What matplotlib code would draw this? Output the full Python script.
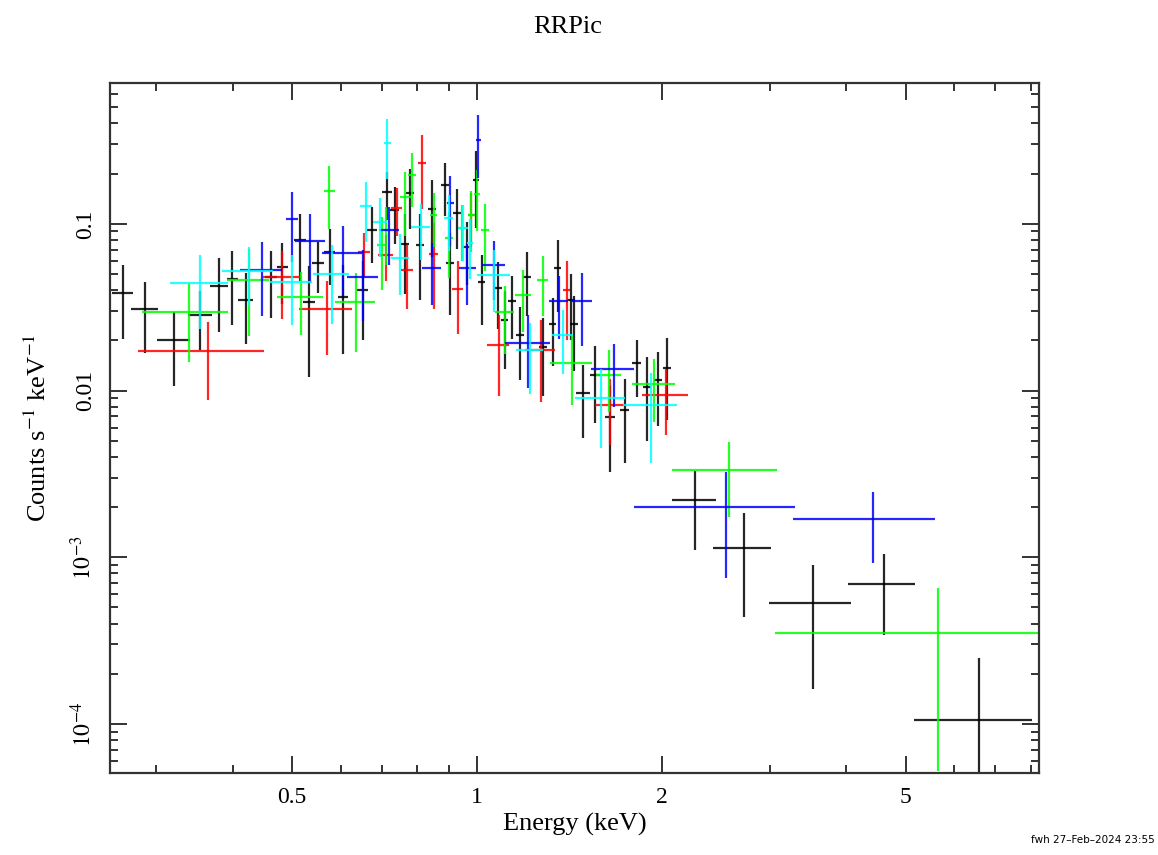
import numpy as np
import matplotlib
import matplotlib.pyplot as plt
from matplotlib.ticker import FixedLocator, NullFormatter

matplotlib.use("Agg")

plt.rcParams["font.family"] = ["Liberation Serif", "DejaVu Serif"]
plt.rcParams["mathtext.fontset"] = "stix"

# energy bin centre, bin half width (keV), rate, rate error (counts/s/keV)
black_e = [0.265, 0.288, 0.321, 0.354, 0.380, 0.3995, 0.420, 0.462, 0.482, 0.515,
           0.532, 0.551, 0.576, 0.605, 0.652, 0.675, 0.713, 0.735, 0.763, 0.778,
           0.808, 0.845, 0.887, 0.904, 0.928, 0.963, 0.998, 1.019, 1.082, 1.111,
           1.141, 1.175, 1.206, 1.281, 1.330, 1.355, 1.423, 1.439, 1.488, 1.557,
           1.647, 1.743, 1.823, 1.892, 1.972, 2.04, 2.265, 2.72, 3.53, 4.60, 6.59]
black_w = [0.0105, 0.0145, 0.020, 0.016, 0.013, 0.0085, 0.012, 0.0105, 0.010, 0.0115,
           0.012, 0.012, 0.012, 0.012, 0.013, 0.013, 0.013, 0.012, 0.012, 0.012,
           0.013, 0.013, 0.013, 0.013, 0.013, 0.013, 0.012, 0.013, 0.015, 0.015,
           0.016, 0.017, 0.017, 0.018, 0.018, 0.018, 0.02, 0.02, 0.04, 0.03,
           0.03, 0.03, 0.03, 0.03, 0.03, 0.03, 0.187, 0.29, 0.54, 0.57, 1.43]
black_y = [0.0385, 0.0309, 0.0201, 0.0284, 0.0425, 0.0467, 0.035, 0.0481, 0.0552, 0.0802,
           0.034, 0.0583, 0.068, 0.0365, 0.0402, 0.092, 0.156, 0.121, 0.0759, 0.153,
           0.0748, 0.123, 0.171, 0.0583, 0.116, 0.0728, 0.184, 0.0449, 0.0413, 0.0265,
           0.0345, 0.0216, 0.048, 0.0183, 0.0251, 0.0545, 0.035, 0.0251, 0.0097, 0.0124,
           0.00695, 0.00766, 0.0147, 0.0105, 0.0116, 0.0137, 0.00221, 0.00114, 0.000532,
           0.000692, 0.000106]
black_err = [0.018, 0.014, 0.0095, 0.011, 0.02, 0.022, 0.016, 0.021, 0.022, 0.035,
             0.022, 0.02, 0.025, 0.02, 0.02, 0.034, 0.05, 0.045, 0.038, 0.06,
             0.04, 0.06, 0.06, 0.03, 0.045, 0.03, 0.09, 0.02, 0.018, 0.013,
             0.014, 0.01, 0.02, 0.009, 0.011, 0.025, 0.015, 0.012, 0.0045, 0.006,
             0.0037, 0.004, 0.0055, 0.0055, 0.0055, 0.007, 0.0011, 0.0007, 0.00037,
             0.00035, 0.000143]

red_e = [0.365, 0.4815, 0.570, 0.655, 0.71, 0.74, 0.77, 0.815, 0.85, 0.93,
         0.98, 1.085, 1.27, 1.40, 1.65, 2.03]
red_w = [0.085, 0.0335, 0.056, 0.015, 0.02, 0.015, 0.017, 0.012, 0.013, 0.02,
         0.013, 0.045, 0.07, 0.02, 0.09, 0.175]
red_y = [0.0173, 0.048, 0.0309, 0.068, 0.0652, 0.125, 0.053, 0.232, 0.066, 0.0407,
         0.113, 0.0188, 0.0175, 0.040, 0.0082, 0.0094]
red_err = [0.0085, 0.021, 0.0145, 0.02, 0.02, 0.04, 0.022, 0.11, 0.035, 0.019,
           0.04, 0.0095, 0.009, 0.02, 0.0035, 0.004]

green_e = [0.339, 0.425, 0.517, 0.575, 0.635, 0.70, 0.71, 0.765, 0.785, 0.85,
           0.90, 0.945, 0.98, 1.0, 1.03, 1.11, 1.19, 1.28, 1.427, 1.64,
           1.945, 2.58, 5.638]
green_w = [0.054, 0.034, 0.045, 0.012, 0.048, 0.012, 0.012, 0.015, 0.012, 0.012,
           0.013, 0.013, 0.013, 0.012, 0.015, 0.04, 0.035, 0.025, 0.112, 0.075,
           0.157, 0.50, 2.578]
green_y = [0.0296, 0.0461, 0.0365, 0.158, 0.034, 0.075, 0.092, 0.145, 0.197, 0.113,
           0.0824, 0.095, 0.113, 0.15, 0.092, 0.0296, 0.0375, 0.0461, 0.0147, 0.0124,
           0.011, 0.00334, 0.000352]
green_err = [0.0147, 0.025, 0.015, 0.065, 0.017, 0.035, 0.035, 0.06, 0.07, 0.04,
             0.035, 0.035, 0.045, 0.06, 0.04, 0.013, 0.015, 0.018, 0.0065, 0.005,
             0.0045, 0.0016, 0.0003]

blue_e = [0.446, 0.50, 0.535, 0.605, 0.652, 0.72, 0.845, 0.905, 0.965, 1.005,
          1.065, 1.213, 1.36, 1.483, 1.67, 2.55, 4.42]
blue_w = [0.035, 0.012, 0.03, 0.046, 0.037, 0.028, 0.03, 0.012, 0.03, 0.01,
          0.045, 0.102, 0.05, 0.06, 0.135, 0.75, 1.15]
blue_y = [0.053, 0.107, 0.079, 0.067, 0.0481, 0.092, 0.0545, 0.134, 0.0545, 0.319,
          0.0568, 0.0193, 0.0345, 0.0345, 0.0135, 0.0020, 0.0017]
blue_err = [0.025, 0.048, 0.035, 0.03, 0.022, 0.035, 0.022, 0.06, 0.022, 0.13,
            0.022, 0.009, 0.014, 0.016, 0.0055, 0.00125, 0.00077]

cyan_e = [0.3545, 0.425, 0.499, 0.58, 0.66, 0.695, 0.715, 0.75, 0.81, 0.90,
          0.95, 0.975, 1.067, 1.22, 1.38, 1.595, 1.925]
cyan_w = [0.038, 0.04, 0.039, 0.04, 0.015, 0.018, 0.01, 0.025, 0.03, 0.015,
          0.018, 0.012, 0.067, 0.06, 0.055, 0.148, 0.195]
cyan_y = [0.0443, 0.0523, 0.0449, 0.0501, 0.128, 0.103, 0.306, 0.0625, 0.096, 0.1087,
          0.0945, 0.077, 0.0494, 0.0175, 0.0216, 0.00904, 0.0082]
cyan_err = [0.021, 0.02, 0.02, 0.025, 0.05, 0.04, 0.12, 0.025, 0.035, 0.04,
            0.035, 0.03, 0.02, 0.008, 0.009, 0.0045, 0.0045]

series = [
    (black_e, black_w, black_y, black_err, "#000000"),
    (red_e, red_w, red_y, red_err, "#ff0000"),
    (green_e, green_w, green_y, green_err, "#00ff00"),
    (blue_e, blue_w, blue_y, blue_err, "#0000ff"),
    (cyan_e, cyan_w, cyan_y, cyan_err, "#00ffff"),
]

fig = plt.figure(figsize=(11.58, 8.55), dpi=100)
ax = fig.add_axes([0.095, 0.096, 0.8022, 0.807])

for e, w, y, err, col in series:
    y = np.array(y)
    err = np.array(err)
    # keep the lower bar above zero on the log axis
    lo = np.minimum(err, y * 0.999)
    ax.errorbar(e, y, xerr=w, yerr=[lo, err], fmt="none", ecolor=col,
                elinewidth=1.6, capsize=0, alpha=0.85)

ax.set_xscale("log")
ax.set_yscale("log")
ax.set_xlim(0.2525, 8.24)
ax.set_ylim(5.09e-5, 0.70)

ax.xaxis.set_major_locator(FixedLocator([0.5, 1, 2, 5]))
ax.set_xticklabels(["0.5", "1", "2", "5"])
ax.xaxis.set_minor_locator(FixedLocator([0.3, 0.4, 0.6, 0.7, 0.8, 0.9, 3, 4, 6, 7, 8]))
ax.xaxis.set_minor_formatter(NullFormatter())

ax.yaxis.set_major_locator(FixedLocator([1e-4, 1e-3, 0.01, 0.1]))
ax.set_yticklabels([r"$10^{-4}$", r"$10^{-3}$", "0.01", "0.1"], rotation=90, va="center")
ax.yaxis.set_minor_locator(FixedLocator(
    [k * 10.0 ** p for p in range(-5, 0) for k in range(2, 10)]))
ax.yaxis.set_minor_formatter(NullFormatter())

ax.tick_params(which="both", direction="in", top=True, right=True, width=1.4,
               labelsize=17, color="#333333")
ax.tick_params(which="major", length=12, pad=10)
ax.tick_params(which="minor", length=6)
for s in ax.spines.values():
    s.set_linewidth(1.6)
    s.set_color("#333333")

ax.set_xlabel("Energy (keV)", fontsize=19, labelpad=4)
ax.set_ylabel(r"Counts s$^{-1}$ keV$^{-1}$", fontsize=19, labelpad=14)
fig.text(0.49, 0.968, "RRPic", ha="center", va="center", fontsize=19)
fig.text(0.997, 0.012, "fwh 27\u2013Feb\u20132024 23:55", ha="right", va="bottom",
         fontsize=7.5, family="DejaVu Sans")

fig.savefig("out.png", dpi=100, facecolor="white")
